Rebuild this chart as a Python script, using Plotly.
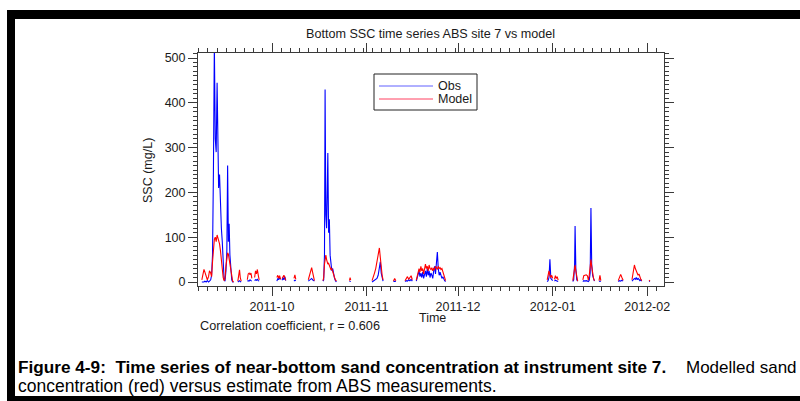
import datetime as dt
import plotly.graph_objects as go

# Time axis: days since 2011-09-01 (None breaks the line where there is no record)
day = [
    7.0, 7.4, 7.7, 8.0, 8.4, 8.8, 9.2, 9.5, 9.9, 10.2, 10.5, 10.8, 11.1, 11.4, 11.7, 12.0,
    12.2, 12.5, 12.8, 13.1, 13.4, 13.7, 14.0, 14.3, 14.6, 14.9, 15.2, 15.45, 15.7, 15.95,
    16.2, 16.5, 16.8, 17.1, 17.4, None,
    18.8, 19.1, 19.35, 19.6, 19.9, None,
    21.9, 22.2, 22.5, 22.8, 23.1, 23.4, None,
    24.3, 24.6, 24.9, 25.2, 25.5, 25.8, None,
    31.6, 31.9, 32.2, 32.5, 32.8, None,
    33.3, 33.6, 33.9, 34.2, 34.5, None,
    37.2, 37.5, 37.8, None,
    41.9, 42.3, 42.7, 43.0, 43.3, 43.6, 43.9, None,
    46.7, 46.95, 47.2, 47.4, 47.65, 47.9, 48.1, 48.3, 48.55, 48.8, 49.05, 49.3, 49.6,
    49.9, 50.2, 50.5, 50.8, 51.1, None,
    55.4, 55.6, 55.8, None,
    62.8, 63.2, 63.6, 64.0, 64.4, 64.8, 65.2, 65.5, 65.8, 66.1, 66.4, None,
    69.8, 70.2, 70.6, None,
    73.6, 74.0, 74.4, 74.8, 75.2, 75.6, 76.0, None,
    77.3, 77.6, 77.9, 78.2, 78.5, 78.8, 79.1, 79.4, 79.7, 80.0, 80.3, 80.6, 80.9, 81.2,
    81.5, 81.8, 82.1, 82.4, 82.7, 83.0, 83.3, 83.6, 83.9, 84.2, 84.5, 84.8, 85.1, 85.4,
    85.7, 86.0, 86.3, 86.6, 86.9, None,
    120.2, 120.5, 120.8, 121.1, 121.4, 121.7, 122.0, None,
    122.6, 122.9, 123.2, 123.5, 123.8, None,
    128.6, 128.9, 129.2, 129.35, 129.6, 129.9, 130.2, None,
    131.9, 132.2, 132.6, 133.0, 133.4, 133.7, 134.0, 134.3, 134.55, 134.8, 135.1, 135.4,
    135.7, None,
    137.2, 137.5, 137.8, None,
    143.5, 143.9, 144.3, 144.7, 145.1, None,
    148.0, 148.4, 148.8, 149.1, 149.4, 149.7, 150.0, 150.3, 150.6, 150.9, 151.2, None,
    153.6, 153.9,
]

# Near-bottom SSC estimated from ABS (mg/L)
obs = [
    0, 0, 0, 2, 0, 3, 0, 2, 5, 15, 60, 250, 530, 320, 290, 445,
    300, 210, 240, 160, 120, 90, 20, 5, 2, 25, 70, 260, 90, 130,
    60, 25, 5, 0, 0, None,
    0, 2, 3, 1, 0, None,
    2, 3, 2, 5, 3, 2, None,
    3, 5, 4, 6, 3, 2, None,
    2, 8, 5, 10, 6, None,
    4, 10, 5, 12, 3, None,
    2, 4, 3, None,
    2, 4, 6, 8, 5, 3, 2, None,
    2, 5, 60, 430, 150, 120, 200, 288, 110, 140, 60, 40, 25,
    30, 15, 8, 3, 0, None,
    1, 2, 1, None,
    0, 2, 3, 5, 8, 15, 30, 45, 20, 8, 2, None,
    1, 2, 1, None,
    1, 3, 2, 5, 3, 6, 2, None,
    2, 8, 15, 25, 12, 20, 10, 22, 8, 18, 25, 12, 30, 15,
    25, 10, 20, 15, 8, 25, 35, 18, 40, 67, 30, 15, 22, 10,
    8, 12, 5, 3, 1, None,
    1, 3, 10, 51, 8, 5, 3, None,
    2, 4, 3, 2, 1, None,
    1, 5, 40, 125, 30, 5, 2, None,
    1, 3, 2, 3, 2, 1, 4, 20, 165, 40, 15, 5,
    2, None,
    1, 2, 1, None,
    1, 3, 2, 4, 2, None,
    2, 5, 8, 6, 10, 5, 8, 6, 3, 5, 2, None,
    1, 2,
]

# Modelled near-bottom sand concentration (mg/L)
model = [
    5, 20, 28, 22, 10, 5, 12, 25, 20, 12, 45, 85, 95, 100, 90, 105,
    100, 95, 85, 70, 45, 25, 10, 3, 8, 35, 55, 65, 62, 50,
    40, 20, 5, 2, 0, None,
    2, 15, 27, 10, 2, None,
    5, 18, 20, 16, 20, 8, None,
    10, 25, 18, 28, 15, 5, None,
    10, 15, 8, 14, 6, None,
    8, 12, 15, 10, 4, None,
    8, 16, 6, None,
    5, 15, 25, 32, 22, 10, 3, None,
    3, 10, 40, 55, 60, 50, 45, 40, 42, 35, 30, 28, 30,
    22, 18, 10, 5, 2, None,
    3, 10, 4, None,
    3, 10, 20, 30, 45, 60, 76, 55, 30, 15, 5, None,
    2, 8, 3, None,
    3, 8, 12, 6, 10, 14, 5, None,
    4, 12, 20, 30, 22, 35, 25, 30, 18, 28, 40, 30, 35, 25,
    38, 30, 28, 32, 25, 30, 28, 35, 30, 28, 35, 30, 32, 28,
    30, 22, 15, 8, 3, None,
    5, 20, 25, 15, 10, 15, 8, None,
    6, 14, 8, 12, 4, None,
    3, 15, 30, 38, 25, 8, 2, None,
    5, 14, 15, 16, 14, 4, 15, 30, 50, 35, 20, 8,
    3, None,
    3, 15, 3, None,
    3, 12, 17, 10, 4, None,
    5, 20, 38, 30, 25, 20, 15, 18, 10, 6, 3, None,
    2, 4,
]

base = dt.datetime(2011, 9, 1)
times = [base + dt.timedelta(days=d) if d is not None else None for d in day]

FONT = "Liberation Sans, Arial, Helvetica, sans-serif"
AX = "#3a3a3a"

# Plot-area geometry in pixels (used to place the annotation / frame elements)
W, H = 800, 401
L, R, T, B = 198, 664, 53, 286


def px(x):
    return (x - L) / (R - L)


def py(y):
    return (B - y) / (B - T)


fig = go.Figure()
fig.add_trace(go.Scatter(x=times, y=obs, mode="lines", name="Obs",
                         line=dict(color="#0000ff", width=1.1), connectgaps=False,
                         showlegend=False))
fig.add_trace(go.Scatter(x=times, y=model, mode="lines", name="Model",
                         line=dict(color="#ff0000", width=1.1), connectgaps=False,
                         showlegend=False))

fig.update_layout(
    width=W, height=H,
    margin=dict(l=L, r=W - R, t=T, b=H - B, pad=0),
    paper_bgcolor="white", plot_bgcolor="white",
    font=dict(family=FONT, size=12.5, color="#1a1a1a"),
    showlegend=False,
    xaxis=dict(
        type="date",
        range=[base + dt.timedelta(days=5.74), base + dt.timedelta(days=158.5)],
        tick0="2011-10-01", dtick="M1", tickformat="%Y-%m",
        ticks="outside", ticklen=9, tickwidth=1, tickcolor=AX,
        showline=True, linecolor=AX, linewidth=1, mirror="allticks",
        showgrid=False, zeroline=False,
        tickfont=dict(size=12.5),
        minor=dict(tick0="2011-10-01", dtick=3 * 86400000, ticks="outside",
                   ticklen=4, tickcolor=AX, showgrid=False),
    ),
    yaxis=dict(
        range=[-8.9, 511.2], tick0=0, dtick=100,
        ticks="outside", ticklen=9, tickwidth=1, tickcolor=AX,
        showline=True, linecolor=AX, linewidth=1, mirror="allticks",
        showgrid=False, zeroline=False,
        tickfont=dict(size=12.5),
        minor=dict(dtick=10, ticks="outside", ticklen=4, tickcolor=AX, showgrid=False),
    ),
)

shapes = []
# page frame bars
for x0, x1, y0, y1 in [(7, 810, 10, 19), (7, 15, 10, 410), (7, 810, 396, 410)]:
    shapes.append(dict(type="rect", xref="paper", yref="paper",
                       x0=px(x0), x1=px(x1), y0=py(y1), y1=py(y0),
                       fillcolor="black", line=dict(width=0), layer="above"))
# legend box and keys
shapes.append(dict(type="rect", xref="paper", yref="paper",
                   x0=px(374), x1=px(477), y0=py(110), y1=py(74),
                   fillcolor="white", line=dict(color="#222", width=1), layer="above"))
shapes.append(dict(type="line", xref="paper", yref="paper",
                   x0=px(379), x1=px(433), y0=py(86), y1=py(86),
                   line=dict(color="#6060ff", width=1), layer="above"))
shapes.append(dict(type="line", xref="paper", yref="paper",
                   x0=px(379), x1=px(433), y0=py(99), y1=py(99),
                   line=dict(color="#ff4060", width=1), layer="above"))
fig.update_layout(shapes=shapes)

NB = "\u00a0"
ann = [
    dict(text="Bottom SSC time series ABS site 7 vs model", x=px(430), y=py(34),
         font=dict(size=12.6)),
    dict(text="SSC (mg/L)", x=px(148), y=py(171), textangle=-90, font=dict(size=12.5)),
    dict(text="Time", x=px(432), y=py(318), font=dict(size=12.5)),
    dict(text="Correlation coefficient, r = 0.606", x=px(198), y=py(326),
         xanchor="left", font=dict(size=12.7)),
    dict(text="Obs", x=px(436), y=py(86), xanchor="left", font=dict(size=12.5)),
    dict(text="Model", x=px(436), y=py(99), xanchor="left", font=dict(size=12.5)),
    dict(text="<b>Figure 4-9:" + NB + " Time series of near-bottom sand concentration at "
              "instrument site 7.</b>",
         x=px(16), y=py(367), xanchor="left", font=dict(size=17.2, color="black")),
    dict(text="Modelled sand", x=px(684), y=py(367), xanchor="left",
         font=dict(size=17, color="black")),
    dict(text="concentration (red) versus estimate from ABS measurements.",
         x=px(16), y=py(386), xanchor="left", font=dict(size=17.5, color="black")),
]
for a in ann:
    a.setdefault("xanchor", "center")
    a.update(xref="paper", yref="paper", yanchor="middle", showarrow=False)
fig.update_layout(annotations=ann)

fig.write_html("out.html")
